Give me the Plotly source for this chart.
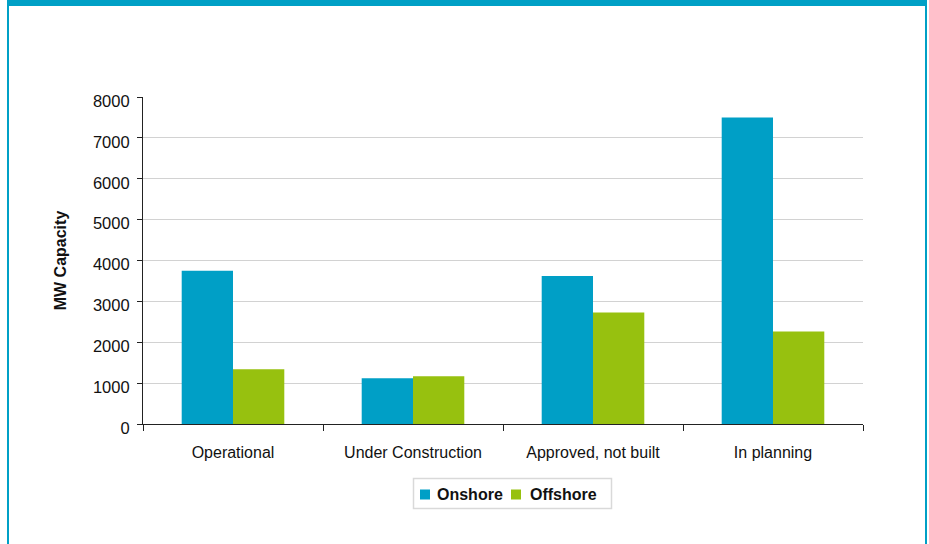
import plotly.graph_objects as go

# Wind capacity pipeline by project stage (MW)
categories = ["Operational", "Under Construction", "Approved, not built", "In planning"]
onshore = [3750, 1120, 3620, 7500]
offshore = [1340, 1170, 2730, 2260]
y_ticks = [0, 1000, 2000, 3000, 4000, 5000, 6000, 7000, 8000]
series_names = ["Onshore", "Offshore"]

W, H = 929, 544
ML, MR, MT, MB = 143, 66, 97, 120
PW, PH = W - ML - MR, H - MT - MB

ONSHORE_COLOR = "#009FC6"
OFFSHORE_COLOR = "#97C10F"
FRAME_COLOR = "#00A0C6"
TEXT_COLOR = "#111111"
FONT = "Liberation Sans, Arial, Helvetica, sans-serif"


def fx(px):
    return (px - ML) / PW


def fy(py):
    return (H - MB - py) / PH


def rect(x0, y0, x1, y1, fill, line_color=None, line_width=0):
    return dict(type="rect", xref="paper", yref="paper",
                x0=fx(x0), x1=fx(x1), y0=fy(y1), y1=fy(y0),
                fillcolor=fill,
                line=dict(width=line_width, color=line_color or fill),
                layer="above")


fig = go.Figure()
fig.add_trace(go.Bar(name=series_names[0], x=categories, y=onshore,
                     marker=dict(color=ONSHORE_COLOR, line=dict(width=0))))
fig.add_trace(go.Bar(name=series_names[1], x=categories, y=offshore,
                     marker=dict(color=OFFSHORE_COLOR, line=dict(width=0))))

# Page frame: thick band on top, thin rules down both sides
shapes = [
    rect(7, 0, 927, 6, FRAME_COLOR),
    rect(7, 0, 9, H, FRAME_COLOR),
    rect(925, 0, 927, H, FRAME_COLOR),
]

# Compact boxed legend below the plot
shapes.append(rect(413.5, 478.5, 611.5, 508.5, "white", "#d9d9d9", 1.5))
legend_items = [(series_names[0], ONSHORE_COLOR, 420, 435),
                (series_names[1], OFFSHORE_COLOR, 511, 528)]
annotations = []
for name, color, sx, tx in legend_items:
    shapes.append(rect(sx, 489.5, sx + 10, 499.5, color))
    annotations.append(dict(
        text=name, xref="paper", yref="paper", x=fx(tx), y=fy(494.5),
        xanchor="left", yanchor="middle", showarrow=False,
        font=dict(family=FONT, size=16, color=TEXT_COLOR, weight="bold"),
    ))

fig.update_layout(
    width=W, height=H,
    margin=dict(l=ML, r=MR, t=MT, b=MB, pad=0),
    paper_bgcolor="white", plot_bgcolor="white",
    barmode="group", bargap=0.43, bargroupgap=0,
    font=dict(family=FONT, size=16, color=TEXT_COLOR),
    showlegend=False,
    shapes=shapes,
    annotations=annotations,
    xaxis=dict(
        type="category", range=[-0.5, 3.5],
        showline=True, linecolor="#222222", linewidth=1.2,
        ticks="outside", tickson="boundaries", ticklen=6,
        tickcolor="#222222", tickwidth=1.2,
        showgrid=False, fixedrange=True, ticklabelstandoff=14,
        tickfont=dict(family=FONT, size=16, color=TEXT_COLOR),
    ),
    yaxis=dict(
        range=[0, 8000], tickvals=y_ticks,
        ticktext=[str(v) for v in y_ticks],
        showline=True, linecolor="#222222", linewidth=1.2,
        ticks="outside", ticklen=5, tickcolor="#222222", tickwidth=1.2,
        showgrid=True, gridcolor="#d2d2d2", gridwidth=1.2,
        zeroline=False, fixedrange=True,
        ticklabelstandoff=4, ticklabelshift=4,
        tickfont=dict(family=FONT, size=16.5, color=TEXT_COLOR),
        title=dict(text="MW Capacity", standoff=22,
                   font=dict(family=FONT, size=16, color=TEXT_COLOR, weight="bold")),
    ),
)

fig.write_html("out.html")
